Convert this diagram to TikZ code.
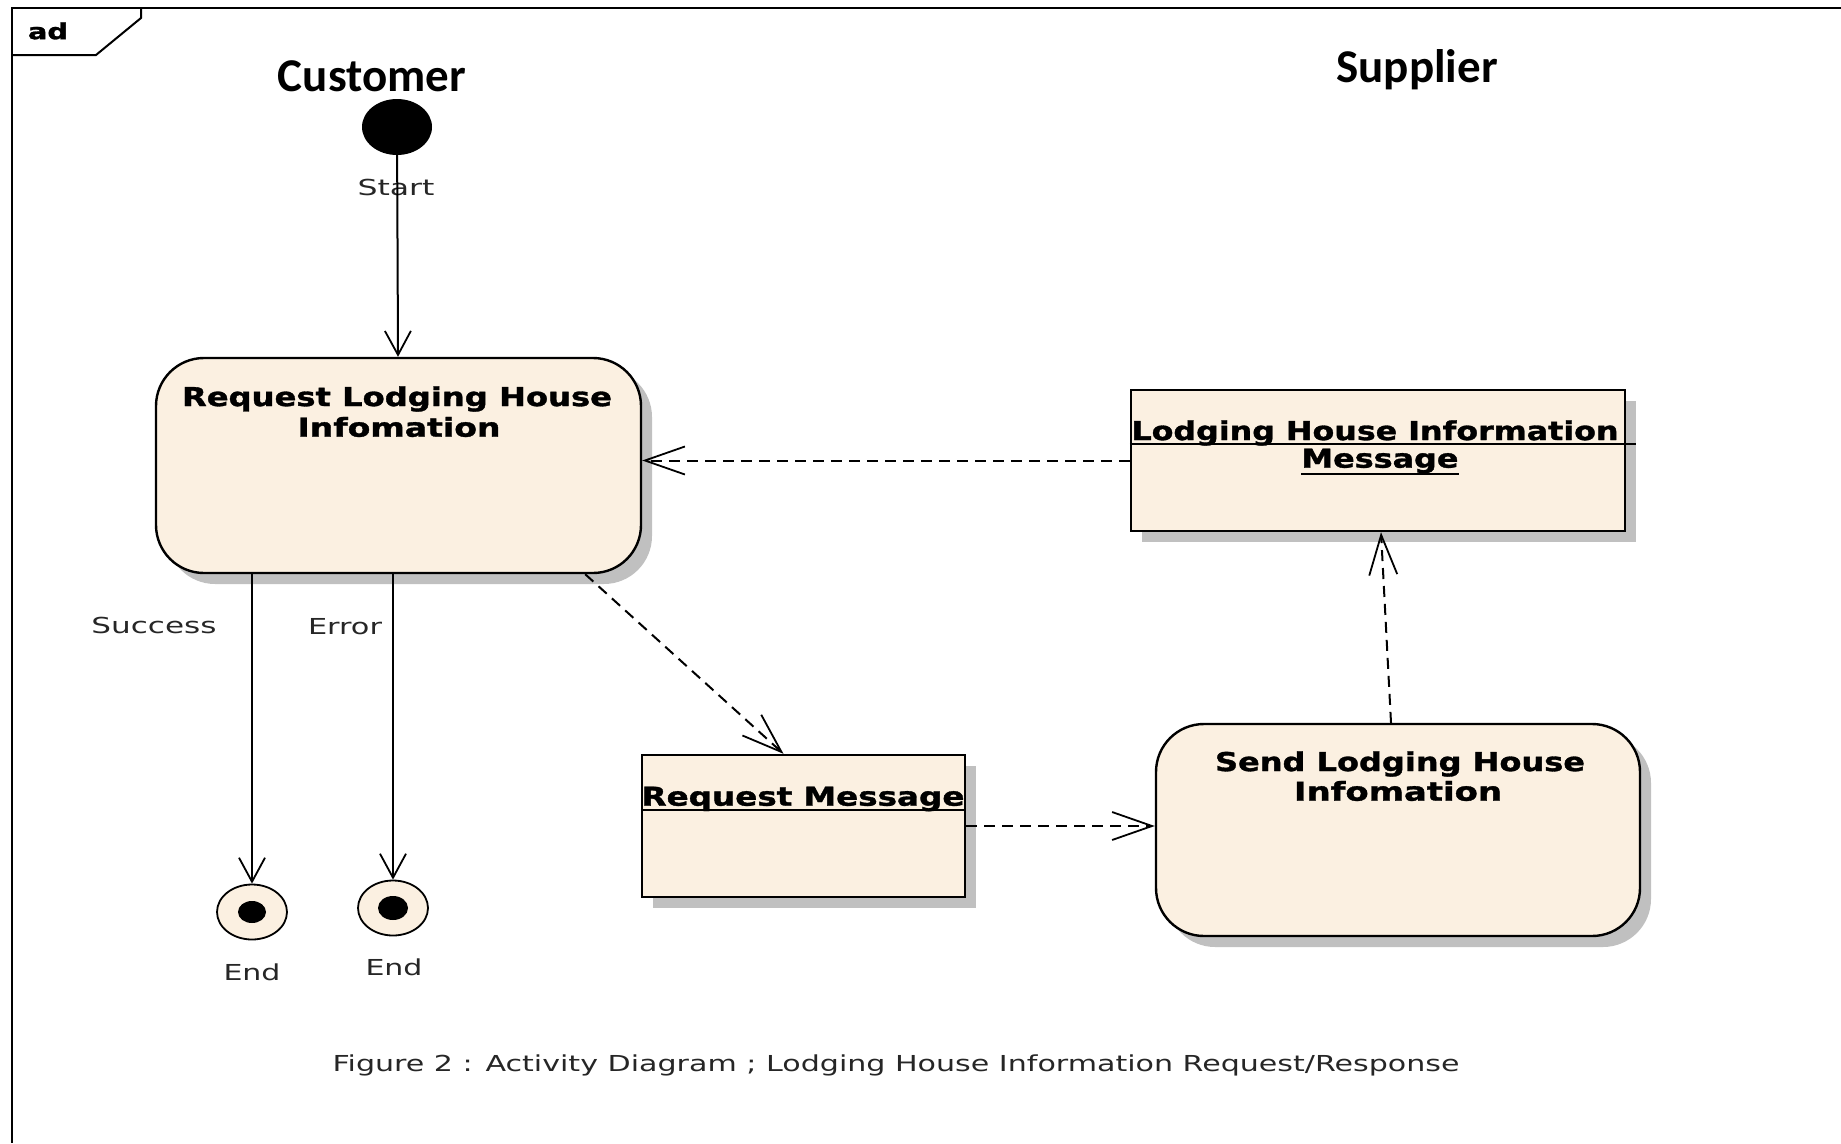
\documentclass[tikz,border=0pt]{standalone}
\usepackage{fontspec}
\usepackage{graphicx}
\setmainfont{DejaVu Sans}
\newfontfamily\hdrfont{Carlito}
\newfontfamily\titlefont{DejaVu Sans Bold}[FakeBold=1.2]
\usetikzlibrary{arrows.meta,shapes.geometric,shadows,calc}
\definecolor{boxfill}{RGB}{251,240,225}
\definecolor{shgray}{RGB}{192,192,192}
\newcommand{\fitw}[2]{\resizebox{#1}{\height}{#2}}
\begin{document}
\begin{tikzpicture}[x=1pt,y=-1pt,
  box/.style={draw=black, line width=2.4pt, fill=boxfill, inner sep=0pt,
     drop shadow={shadow xshift=11pt, shadow yshift=-11pt, fill=shgray, opacity=1}},
  actbox/.style={box, rounded corners=48pt},
  objbox/.style={box},
  title/.style={font=\titlefont\fontsize{26}{30}\selectfont, inner sep=0pt, anchor=center},
  lbl/.style={font=\fontsize{22}{26}\selectfont, inner sep=0pt, text=black!85},
  hdr/.style={font=\hdrfont\bfseries\fontsize{47}{54}\selectfont, inner sep=0pt},
  flow/.style={line width=2pt, -{Straight Barb[length=24pt,width=26pt,line width=1.8pt]}},
  msg/.style={line width=2pt, dash pattern=on 11pt off 7pt, -{Straight Barb[length=40pt,width=28pt,line width=1.8pt]}},
  uline/.style={line width=2pt},
]
\useasboundingbox (0,0) rectangle (1841,1143);
% frame
\draw[line width=2pt] (1841,8) -- (12,8) -- (12,1143);
\draw[line width=2pt] (12,55) -- (96,55) -- (141,18) -- (141,8);
\node[font=\titlefont\fontsize{22}{26}\selectfont, inner sep=0pt] (ad) at (48,31) {\fitw{40pt}{ad}};

% headers
\node[hdr] (cust) at (372,76) {Customer};
\node[hdr] (supp) at (1417,70) {Supplier};

% start
\node[ellipse, fill=black, minimum width=70pt, minimum height=56pt, inner sep=0pt] (start) at (397,127) {};
\node[lbl] (startL) at (396,187) {\fitw{77pt}{Start}};

% activity: request
\node[actbox, minimum width=485pt, minimum height=215pt] (req) at (398.5,465.5) {};
\node[title] (reqT1) at (397,399) {\fitw{430pt}{Request Lodging House}};
\node[title] (reqT2) at (399,427) {\fitw{203pt}{Infomation}};

% ends
\node[ellipse, draw=black, line width=1.8pt, fill=boxfill, minimum width=70pt, minimum height=55pt, inner sep=0pt] (end1) at (252,912) {};
\fill[black] (end1.center) ellipse (14pt and 11pt);
\node[ellipse, draw=black, line width=1.8pt, fill=boxfill, minimum width=70pt, minimum height=55pt, inner sep=0pt] (end2) at (393,908) {};
\fill[black] (end2.center) ellipse (15pt and 12pt);
\node[lbl] (end1L) at (252,972) {\fitw{57pt}{End}};
\node[lbl] (end2L) at (394,967) {\fitw{57pt}{End}};
\node[lbl] (succL) at (154,625) {\fitw{125pt}{Success}};
\node[lbl] (errL) at (345,627) {\fitw{74pt}{Error}};

% object: request message
\node[objbox, minimum width=323pt, minimum height=142pt] (rm) at (803.5,826) {};
\node[title] (rmT) at (803,799) {\fitw{323pt}{Request Message}};
\draw[uline] (rm.west |- 0,810) -- (rm.east |- 0,810);

% activity: send
\node[actbox, minimum width=484pt, minimum height=212pt] (send) at (1398,830) {};
\node[title] (sendT1) at (1400,764) {\fitw{370pt}{Send Lodging House}};
\node[title] (sendT2) at (1398,791) {\fitw{208pt}{Infomation}};

% object: lodging house information message
\node[objbox, minimum width=494pt, minimum height=141pt] (lhim) at (1378,460.5) {};
\node[title] (lhimT1) at (1375,433) {\fitw{487pt}{Lodging House Information}};
\node[title] (lhimT2) at (1380,461) {\fitw{157pt}{Message}};
\draw[uline] (lhim.west |- 0,444) -- ([xshift=10pt]lhim.east |- 0,444);
\draw[uline] (lhimT2.west |- 0,474) -- (lhimT2.east |- 0,474);

% connectors
\draw[flow] (start) -- (req);
\draw[flow] (end1.north |- req.south) -- (end1.north);
\draw[flow] (end2.north |- req.south) -- (end2.north);
\draw[msg] ([xshift=-57pt]req.south east) -- ([xshift=-20pt]rm.north);
\draw[msg] (rm.east) -- (send.west |- rm.east);
\draw[msg] ([xshift=-7pt]send.north) -- ([xshift=3pt]lhim.south);
\draw[msg] (lhim.west) -- (req.east |- lhim.west);

% caption
\node[lbl] (cap) at (896,1065) {\fitw{1127pt}{Figure 2 : Activity Diagram ; Lodging House Information Request/Response}};
\end{tikzpicture}
\end{document}
